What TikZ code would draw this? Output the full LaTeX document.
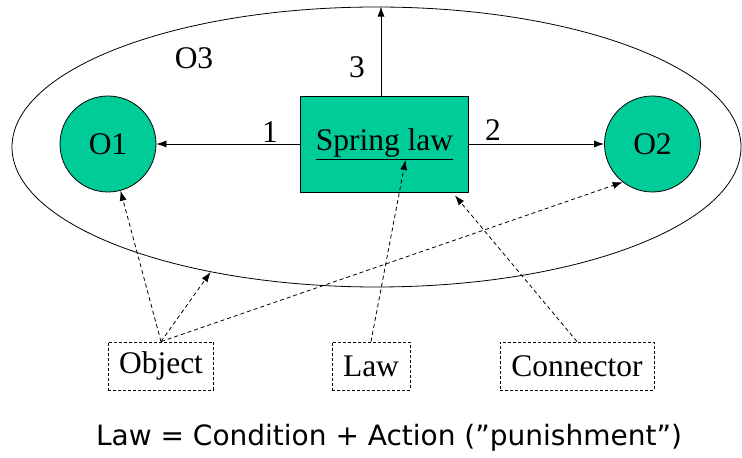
\documentclass[tikz,border=0pt]{standalone}
\usepackage{fontspec}
\setmainfont{Liberation Serif}
\newfontfamily\labelsans{DejaVu Sans}
\usetikzlibrary{arrows.meta,shapes.geometric}
\definecolor{objgreen}{RGB}{0,204,153}
\tikzset{
  serif/.style={font=\fontsize{31.5}{33}\selectfont},
  objcircle/.style={circle,draw,fill=objgreen,minimum size=96pt,inner sep=0pt,line width=0.8pt,serif},
  lawbox/.style={rectangle,draw,fill=objgreen,minimum width=168pt,minimum height=96pt,inner sep=0pt,line width=0.8pt,serif},
  tagbox/.style={rectangle,draw,dash pattern=on 3pt off 2pt,line width=0.8pt,minimum height=48pt,inner sep=0pt,serif},
  solidarrow/.style={line width=0.8pt,-{Latex[length=10pt,width=7pt]}},
  dashedarrow/.style={line width=0.8pt,dash pattern=on 4pt off 3pt,-{Latex[length=10pt,width=7pt]}},
  numlabel/.style={serif,inner sep=0pt}
}
\begin{document}
\begin{tikzpicture}[x=1pt,y=1pt]
\useasboundingbox (0,0) rectangle (742,458);
% enclosing object O3
\node[ellipse,draw,line width=0.8pt,minimum width=729pt,minimum height=280pt,inner sep=0pt] (O3) at (376.5,311) {};
\node[numlabel] (O3lbl) at (194,400) {O3};
% inner objects and the law
\node[objcircle] (O1) at (108,314) {O1};
\node[objcircle] (O2) at (652.5,314) {O2};
\node[lawbox] (box) at (384.5,314) {\raisebox{-3pt}{\underline{Spring law}}};
% numbered actions of the law
\draw[solidarrow] (box.west) -- (O1.east);
\draw[solidarrow] (box.east) -- (O2.west);
\draw[solidarrow] ([xshift=-3.5pt]box.north) -- ([xshift=-3.5pt]box.north |- O3.north);
\node[numlabel] (n1) at (270,326) {1};
\node[numlabel] (n2) at (493,328) {2};
\node[numlabel] (n3) at (357,391) {3};
% concept tags
\node[tagbox,minimum width=105.5pt] (obj) at (161,92) {\raisebox{-2pt}{Object}};
\node[tagbox,minimum width=78pt] (law) at (371,92) {\raisebox{-2pt}{Law}};
\node[tagbox,minimum width=154pt] (con) at (577,92) {\raisebox{-2pt}{Connector}};
\coordinate (lawtip) at ([xshift=21pt,yshift=-16pt]box.center);
\coordinate (contip) at ([xshift=-14pt,yshift=-3pt]box.south east);
\draw[dashedarrow] (obj.north) -- (O1);
\draw[dashedarrow] (obj.north) -- (O3.217);
\draw[dashedarrow] (obj.north) -- (O2.232);
\draw[dashedarrow] (law.north) -- (lawtip);
\draw[dashedarrow] (con.north) -- (contip);
% definition line
\node[font=\labelsans\fontsize{28}{30}\selectfont,inner sep=0pt] (def) at (389,20) {Law = Condition + Action (”punishment”)};
\end{tikzpicture}
\end{document}
